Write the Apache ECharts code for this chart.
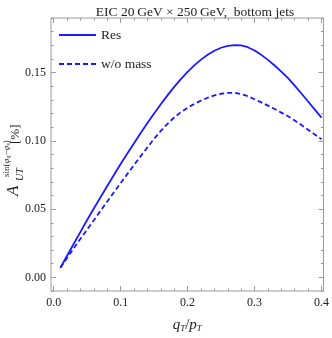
<!DOCTYPE html>
<html>
<head>
<meta charset="utf-8">
<script src="https://cdn.jsdelivr.net/npm/echarts@6/dist/echarts.min.js"></script>
<style>
  html, body { margin: 0; padding: 0; background: #fff; }
  #chart { width: 332px; height: 338px; }
</style>
</head>
<body>
<div id="chart"></div>
<script>
const xs = [0.01,0.02,0.03,0.04,0.05,0.06,0.07,0.08,0.09,0.10,
            0.11,0.12,0.13,0.14,0.15,0.16,0.17,0.18,0.19,0.20,
            0.21,0.22,0.23,0.24,0.25,0.26,0.27,0.28,0.29,0.30,
            0.31,0.32,0.33,0.34,0.35,0.36,0.37,0.38,0.39,0.40];
const res = [0.0070,0.0158,0.0246,0.0333,0.0420,0.0504,0.0587,0.0669,0.0750,0.0830,
             0.0907,0.0983,0.1058,0.1130,0.1200,0.1268,0.1333,0.1395,0.1452,0.1505,
             0.1553,0.1595,0.1630,0.1660,0.1682,0.1696,0.1702,0.1699,0.1686,0.1662,
             0.1630,0.1593,0.1552,0.1507,0.1459,0.1405,0.1347,0.1288,0.1229,0.1170];
const woMass = [0.0070,0.0142,0.0213,0.0283,0.0350,0.0419,0.0488,0.0556,0.0623,0.0690,
                0.0757,0.0823,0.0888,0.0952,0.1015,0.1073,0.1125,0.1171,0.1210,0.1243,
                0.1271,0.1295,0.1316,0.1333,0.1345,0.1352,0.1352,0.1343,0.1327,0.1305,
                0.1282,0.1258,0.1233,0.1207,0.1180,0.1149,0.1116,0.1082,0.1047,0.1012];
const xTicks = [0.0, 0.1, 0.2, 0.3, 0.4];
const yTicks = [0.00, 0.05, 0.10, 0.15];
const xMinorTicks = [0.02,0.04,0.06,0.08,0.12,0.14,0.16,0.18,0.22,0.24,0.26,0.28,0.32,0.34,0.36,0.38];
const yMinorTicks = [-0.01,0.01,0.02,0.03,0.04,0.06,0.07,0.08,0.09,0.11,0.12,0.13,0.14,0.16,0.17,0.18,0.19];
const seriesNames = ['Res', 'w/o mass'];
const titleText = 'EIC 20\u2009GeV \u00d7 250\u2009GeV,  bottom jets';

const SERIF = '"Liberation Serif", "DejaVu Serif", serif';
const FRAME = '#9a9a9a';
const TXT = '#222';
const BLUE = '#1a1aff';
const X_MIN = -0.004, X_MAX = 0.403, Y_MIN = -0.01, Y_MAX = 0.19;

function xAxisDef(pos, vals, len, labels) {
  return {
    type: 'value', position: pos, min: X_MIN, max: X_MAX,
    axisLine: { show: false, onZero: false },
    splitLine: { show: false },
    axisTick: { show: true, inside: true, length: len, customValues: vals, lineStyle: { color: FRAME, width: 1 } },
    axisLabel: labels ? { show: true, customValues: vals, margin: 6, color: TXT, fontFamily: SERIF, fontSize: 12,
                formatter: v => v.toFixed(1) } : { show: false }
  };
}
function yAxisDef(pos, vals, len, labels) {
  return {
    type: 'value', position: pos, min: Y_MIN, max: Y_MAX,
    axisLine: { show: false, onZero: false },
    splitLine: { show: false },
    axisTick: { show: true, inside: true, length: len, customValues: vals, lineStyle: { color: FRAME, width: 1 } },
    axisLabel: labels ? { show: true, customValues: vals, margin: 5, color: TXT, fontFamily: SERIF, fontSize: 12,
                formatter: v => v.toFixed(2) } : { show: false }
  };
}

const xMain = xAxisDef('bottom', xTicks, 5, true);
xMain.name = '{i|q}{s|T}{n|/}{i|p}{s|T}';
xMain.nameLocation = 'middle';
xMain.nameGap = 24;
xMain.nameTextStyle = {
  rich: {
    i: { fontFamily: SERIF, fontStyle: 'italic', fontSize: 15, color: TXT, verticalAlign: 'bottom', lineHeight: 18 },
    n: { fontFamily: SERIF, fontSize: 15, color: TXT, verticalAlign: 'bottom', lineHeight: 18 },
    s: { fontFamily: SERIF, fontStyle: 'italic', fontSize: 9, color: TXT, verticalAlign: 'bottom', lineHeight: 14 }
  }
};

const chart = echarts.init(document.getElementById('chart'), null, { renderer: 'canvas' });
chart.setOption({
  animation: false,
  backgroundColor: '#fff',
  title: {
    text: titleText, left: 190, top: 0, textAlign: 'center',
    textStyle: { fontFamily: SERIF, fontWeight: 'normal', fontSize: 13.5, color: TXT }
  },
  grid: { left: 51, right: 6, top: 18, bottom: 40, show: true, borderColor: FRAME, borderWidth: 1, backgroundColor: 'transparent' },
  legend: {
    orient: 'vertical', left: 53, top: 23, itemWidth: 37, itemHeight: 14, itemGap: 15,
    textStyle: { fontFamily: SERIF, fontSize: 13.5, color: TXT },
    itemStyle: { opacity: 0 },
    lineStyle: { width: 2 },
    data: seriesNames
  },
  xAxis: [
    xMain,
    xAxisDef('bottom', xMinorTicks, 2.5, false),
    xAxisDef('top', xTicks, 5, false),
    xAxisDef('top', xMinorTicks, 2.5, false)
  ],
  yAxis: [
    yAxisDef('left', yTicks, 5, true),
    yAxisDef('left', yMinorTicks, 2.5, false),
    yAxisDef('right', yTicks, 5, false),
    yAxisDef('right', yMinorTicks, 2.5, false)
  ],
  graphic: [{
    type: 'group', x: 19, y: 196, rotation: Math.PI / 2, silent: true,
    children: [
      { type: 'text', x: 0, y: 3.5, style: { text: 'A', font: 'italic 17px ' + SERIF, fill: TXT, verticalAlign: 'bottom', textVerticalAlign: 'bottom' } },
      { type: 'text', x: 15, y: 6, style: { text: 'UT', font: 'italic 10px ' + SERIF, fill: TXT, verticalAlign: 'bottom', textVerticalAlign: 'bottom' } },
      { type: 'text', x: 19, y: -8, style: {
          text: '{n|sin(}{g|\u03c6}{b|q}{n|\u2212}{g|\u03c6}{b|s}{n|)}',
          verticalAlign: 'bottom', textVerticalAlign: 'bottom',
          rich: {
            n: { fontFamily: SERIF, fontSize: 9, fill: TXT, color: TXT, verticalAlign: 'bottom', lineHeight: 11 },
            g: { fontFamily: SERIF, fontStyle: 'italic', fontSize: 9, fill: TXT, color: TXT, verticalAlign: 'bottom', lineHeight: 11 },
            b: { fontFamily: SERIF, fontStyle: 'italic', fontSize: 6, fill: TXT, color: TXT, verticalAlign: 'bottom', lineHeight: 9 }
          }
        } },
      { type: 'text', x: 52, y: 3, style: { text: '[%]', font: '13px ' + SERIF, fill: TXT, verticalAlign: 'bottom', textVerticalAlign: 'bottom' } }
    ]
  }],
  series: [
    {
      name: seriesNames[0], type: 'line', xAxisIndex: 0, yAxisIndex: 0,
      data: xs.map((x, i) => [x, res[i]]),
      smooth: false, symbol: 'none', showSymbol: false,
      lineStyle: { color: BLUE, width: 1.8, type: 'solid' },
      itemStyle: { color: BLUE }
    },
    {
      name: seriesNames[1], type: 'line', xAxisIndex: 0, yAxisIndex: 0,
      data: xs.map((x, i) => [x, woMass[i]]),
      smooth: false, symbol: 'none', showSymbol: false,
      lineStyle: { color: BLUE, width: 1.8, type: [5, 3] },
      itemStyle: { color: BLUE }
    }
  ]
});
</script>
</body>
</html>
